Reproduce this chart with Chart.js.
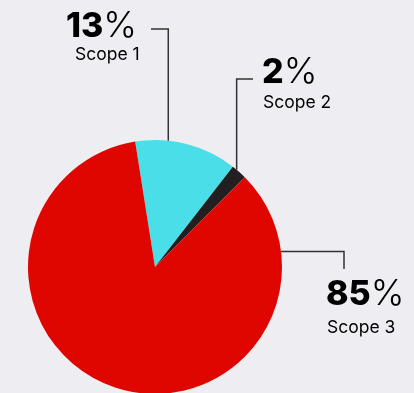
<!DOCTYPE html>
<html>
<head>
<meta charset="utf-8">
<script src="https://cdn.jsdelivr.net/npm/chart.js@4"></script>
<style>
  html, body { margin: 0; padding: 0; background: #eeedf2; overflow: hidden; }
  #wrap { width: 414px; height: 400px; position: relative; }
</style>
</head>
<body>
<div id="wrap"><canvas id="chart" width="414" height="400"></canvas></div>
<script>
// Emissions split by scope (%)
const scopes = ['Scope 1', 'Scope 2', 'Scope 3'];
const shares = [13, 2, 85];
const colors = ['#4adfe8', '#231f20', '#e00600'];

// Leader lines: where each one leaves the pie (deg clockwise from 12 o'clock) and how it bends
const callouts = [
  { angle: 6,  bend: (p) => [[p.x, 29], [151, 29]],   text: { x: 66,  y: 37 },  sub: { x: 75,  y: 60 } },
  { angle: 40, bend: (p) => [[p.x, 79], [253, 79]],   text: { x: 262, y: 83 },  sub: { x: 263, y: 108 } },
  { angle: 83, bend: (p) => [[344, p.y], [344, 269]], text: { x: 326, y: 305 }, sub: { x: 327, y: 333 } }
];

const calloutPlugin = {
  id: 'callouts',
  afterDatasetsDraw(chart) {
    const ctx = chart.ctx;
    const arc = chart.getDatasetMeta(0).data[0];
    const { x: cx, y: cy, outerRadius: r } = arc.getProps(['x', 'y', 'outerRadius'], true);
    ctx.save();
    callouts.forEach((c, i) => {
      const a = (c.angle - 90) * Math.PI / 180;
      const p = { x: cx + r * Math.cos(a), y: cy + r * Math.sin(a) };
      ctx.beginPath();
      ctx.moveTo(p.x, p.y);
      c.bend(p).forEach(([x, y]) => ctx.lineTo(x, y));
      ctx.strokeStyle = '#333';
      ctx.lineWidth = 1.5;
      ctx.stroke();

      ctx.fillStyle = '#000';
      ctx.textBaseline = 'alphabetic';
      ctx.textAlign = 'left';
      ctx.font = '800 34px Inter';
      const num = String(shares[i]);
      ctx.fillText(num, c.text.x, c.text.y);
      const w = ctx.measureText(num).width;
      ctx.font = '300 36px Inter';
      ctx.fillText('%', c.text.x + w, c.text.y);
      ctx.font = '400 17.5px Inter';
      ctx.fillText(scopes[i], c.sub.x, c.sub.y);
    });
    ctx.restore();
  }
};

new Chart(document.getElementById('chart'), {
  type: 'pie',
  data: {
    labels: scopes,
    datasets: [{ data: shares, backgroundColor: colors, borderWidth: 0 }]
  },
  options: {
    responsive: false,
    animation: false,
    rotation: -9,
    layout: { padding: { left: 28, right: 132, top: 140, bottom: 6 } },
    plugins: { legend: { display: false }, tooltip: { enabled: false } }
  },
  plugins: [calloutPlugin]
});
</script>
</body>
</html>
